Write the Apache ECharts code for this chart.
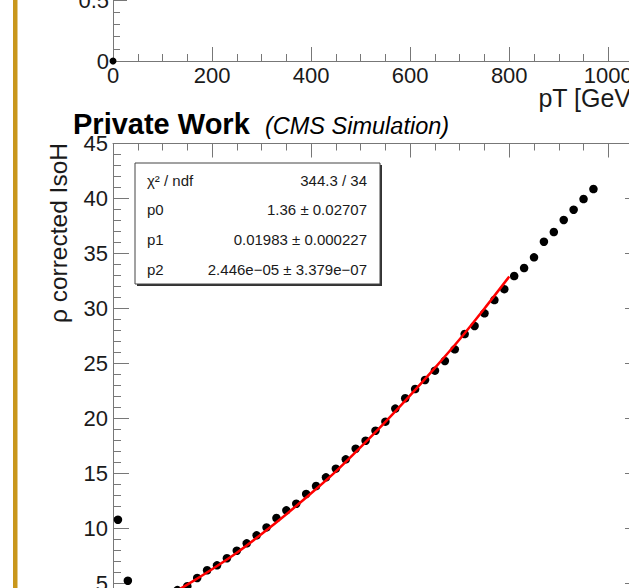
<!DOCTYPE html>
<html>
<head>
<meta charset="utf-8">
<script src="https://cdn.jsdelivr.net/npm/echarts@6/dist/echarts.min.js"></script>
<style>
  html, body { margin: 0; padding: 0; background: #fff; }
  #chart { width: 629px; height: 588px; }
</style>
</head>
<body>
<div id="chart"></div>
<script>
// bin centres [GeV] and profile values
const ptCenters = [10, 30, 50, 70, 90, 110, 130, 150, 170, 190, 210, 230, 250, 270, 290, 310, 330, 350, 370, 390,
  410, 430, 450, 470, 490, 510, 530, 550, 570, 590, 610, 630, 650, 670, 690, 710, 730, 750, 770, 790,
  810, 830, 850, 870, 890, 910, 930, 950, 970]
const isoValues = [10.8, 5.25, 2.6, 2.9, 3.3, 3.8, 4.4, 4.75, 5.5, 6.2, 6.65, 7.3, 7.98, 8.65, 9.38, 10.1, 10.95, 11.65, 12.25, 13.14,
  13.86, 14.65, 15.44, 16.29, 17.25, 17.98, 18.89, 19.71, 20.9, 21.84, 22.68, 23.5, 24.35, 25.23, 26.29, 27.68, 28.41, 29.56, 30.77, 31.76,
  32.95, 33.68, 34.65, 36.07, 36.95, 38.05, 38.98, 39.95, 40.86]

// red fit curve, sampled off the plot
const fitX = [60, 100, 150, 200, 250, 300, 350, 400, 450, 500, 550, 600, 650, 700, 750, 800]
const fitY = [2.64, 3.6, 4.9, 6.3, 7.8, 9.5, 11.3, 13.2, 15.2, 17.4, 19.7, 22.1, 24.6, 27.2, 30.0, 32.9]

// upper pad (only its bottom edge is visible)
const topPadX = [0]
const topPadY = [0]

// stats box rows
const statNames = ['χ² / ndf', 'p0', 'p1', 'p2']
const statValues = ['344.3 / 34', '1.36 ± 0.02707', '0.01983 ± 0.000227', '2.446e−05 ± 3.379e−07']

const FONT = '"Liberation Sans", Arial, Helvetica, sans-serif'
const AXIS_COLOR = '#777'
const LABEL_COLOR = '#1a1a1a'
const X_MAX = 1066

const baseLabel = {
  show: true,
  color: LABEL_COLOR,
  fontFamily: FONT,
  fontSize: 22,
  formatter: (v) => String(v),
  showMaxLabel: false
}

const axisCommon = (extra) => ({
  type: 'value',
  axisLine: { show: true, onZero: false, lineStyle: { color: AXIS_COLOR, width: 1 } },
  axisTick: { show: true, inside: true, length: 14, lineStyle: { color: AXIS_COLOR } },
  minorTick: { show: true, splitNumber: 4, length: 7, lineStyle: { color: AXIS_COLOR } },
  splitLine: { show: false },
  axisLabel: baseLabel,
  ...extra
})

const pairs = (xs, ys) => xs.map((x, i) => [x, ys[i]])

const graphic = [
  // gold strip on the left
  { type: 'rect', shape: { x: 13, y: 0, width: 4.5, height: 588 }, style: { fill: '#c9971c' }, z: 100 },
  // upper pad x title
  { type: 'text', x: 638, y: 98, style: { text: 'pT [GeV]', font: '25px ' + FONT, fill: LABEL_COLOR, align: 'right', verticalAlign: 'middle' } },
  // title
  { type: 'text', x: 73, y: 124, style: { text: 'Private Work', font: 'bold 29px ' + FONT, fill: '#000', align: 'left', verticalAlign: 'middle' } },
  { type: 'text', x: 265, y: 126, style: { text: '(CMS Simulation)', font: 'italic 23.5px ' + FONT, fill: '#000', align: 'left', verticalAlign: 'middle' } },
  // y axis title
  { type: 'text', x: 58, y: 143, rotation: Math.PI / 2, style: { text: 'ρ corrected IsoH', font: '24.5px ' + FONT, fill: LABEL_COLOR, align: 'right', verticalAlign: 'middle' } },
  // stats box shadow + box
  { type: 'rect', shape: { x: 137, y: 165, width: 245, height: 121 }, style: { fill: '#333' }, z: 50 },
  { type: 'rect', shape: { x: 135, y: 163, width: 245, height: 121 }, style: { fill: '#fff', stroke: '#444', lineWidth: 1 }, z: 51 }
]

const rowY = [180, 209.5, 239, 269]
statNames.forEach((name, i) => {
  graphic.push({ type: 'text', x: 147, y: rowY[i], z: 52, style: { text: name, font: '15px ' + FONT, fill: LABEL_COLOR, align: 'left', verticalAlign: 'middle' } })
  graphic.push({ type: 'text', x: 367, y: rowY[i], z: 52, style: { text: statValues[i], font: '15px ' + FONT, fill: LABEL_COLOR, align: 'right', verticalAlign: 'middle' } })
})

const option = {
  animation: false,
  backgroundColor: '#fff',
  grid: [
    { left: 113, top: -61, width: 528, height: 122, containLabel: false, outerBoundsMode: 'none' },
    { left: 113, top: 143.5, width: 528, height: 495, containLabel: false, outerBoundsMode: 'none' }
  ],
  xAxis: [
    axisCommon({
      gridIndex: 0, position: 'bottom', min: 0, max: X_MAX, interval: 200,
      axisLabel: { ...baseLabel, margin: 3 }
    }),
    axisCommon({
      gridIndex: 1, position: 'top', min: 0, max: X_MAX, interval: 200,
      axisLabel: { show: false }
    })
  ],
  yAxis: [
    axisCommon({
      gridIndex: 0, position: 'left', min: 0, max: 1, interval: 0.5,
      minorTick: { show: true, splitNumber: 5, length: 7, lineStyle: { color: AXIS_COLOR } },
      axisLabel: { ...baseLabel, margin: 4, showMaxLabel: true }
    }),
    axisCommon({
      gridIndex: 1, position: 'left', min: 0, max: 45, interval: 5,
      minorTick: { show: true, splitNumber: 5, length: 8, lineStyle: { color: AXIS_COLOR } },
      axisTick: { show: true, inside: true, length: 16, lineStyle: { color: AXIS_COLOR } },
      axisLabel: { ...baseLabel, margin: 5, showMaxLabel: true }
    }),
    axisCommon({
      gridIndex: 1, position: 'right', min: 0, max: 45, interval: 5,
      minorTick: { show: true, splitNumber: 5, length: 8, lineStyle: { color: AXIS_COLOR } },
      axisTick: { show: true, inside: true, length: 16, lineStyle: { color: AXIS_COLOR } },
      axisLabel: { show: false }
    })
  ],
  series: [
    {
      type: 'scatter', xAxisIndex: 0, yAxisIndex: 0, clip: false,
      data: pairs(topPadX, topPadY),
      symbol: 'circle', symbolSize: 7,
      itemStyle: { color: '#000', opacity: 1 }
    },
    {
      type: 'scatter', xAxisIndex: 1, yAxisIndex: 1,
      data: pairs(ptCenters, isoValues),
      symbol: 'circle', symbolSize: 8.5,
      itemStyle: { color: '#000', opacity: 1 },
      z: 3
    },
    {
      type: 'line', xAxisIndex: 1, yAxisIndex: 1,
      data: pairs(fitX, fitY),
      smooth: 0.3, showSymbol: false,
      lineStyle: { color: '#ff0000', width: 2.5 },
      z: 4
    }
  ],
  graphic: graphic
}

const myChart = echarts.init(document.getElementById('chart'), null, { renderer: 'svg' })
myChart.setOption(option)
</script>
</body>
</html>
